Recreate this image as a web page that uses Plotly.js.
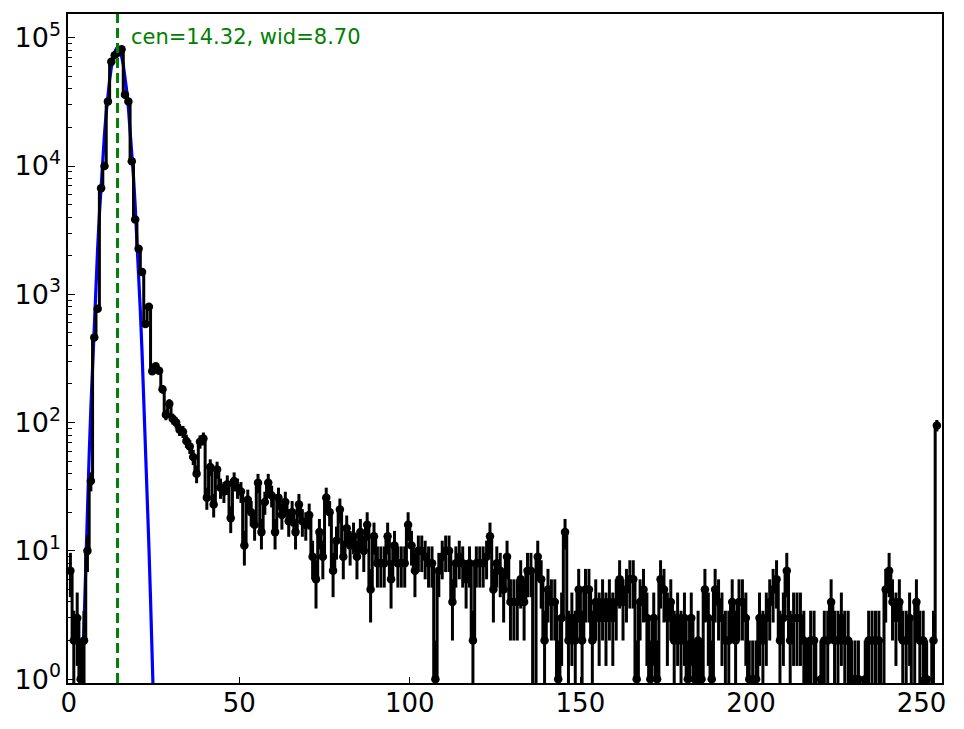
<!DOCTYPE html>
<html>
<head>
<meta charset="utf-8">
<script src="https://cdn.plot.ly/plotly-3.0.1.min.js"></script>
<style>
html,body{margin:0;padding:0;background:#fff;}
#chart{width:964px;height:729px;}
</style>
</head>
<body>
<div id="chart"></div>
<script>
// Histogram counts per bin (bin i spans [i, i+1])
const counts = [
  7, 2, 3, 1, 2, 10, 35, 460, 771, 6700,
  10000, 31900, 65000, 73000, 76600, 81400, 36000, 31900, 10900, 3830,
  2260, 1490, 588, 800, 251, 275, 254, 182, 115, 140,
  107, 100, 88, 85, 72, 65, 54, 40, 71, 75,
  26, 45, 23, 43, 31, 29, 33, 18, 35, 31,
  29, 11, 25, 20, 16, 34, 14, 24, 34, 27,
  14, 26, 19, 24, 17, 20, 14, 23, 17, 16,
  19, 9, 6, 14, 9, 26, 20, 7, 12, 21,
  9, 15, 11, 13, 9, 14, 10, 16, 5, 13,
  8, 8, 8, 13, 6, 11, 8, 8, 8, 16,
  11, 7, 10, 10, 9, 8, 8, 1, 7, 9,
  10, 10, 4, 8, 9, 8, 6, 8, 2, 8,
  8, 8, 9, 13, 5, 8, 7, 5, 9, 4,
  4, 4, 6, 4, 7, 7, 0, 9, 6, 2,
  5, 4, 4, 1, 3, 14, 2, 3, 2, 5,
  2, 5, 5, 2, 4, 3, 4, 3, 4, 3,
  4, 6, 4, 5, 6, 6, 1, 4, 5, 3,
  1, 3, 1, 6, 5, 3, 4, 2, 3, 2,
  3, 1, 3, 1, 2, 1, 5, 3, 1, 5,
  4, 3, 2, 2, 4, 2, 4, 4, 3, 1,
  1, 1, 3, 2, 3, 4, 5, 6, 2, 3,
  7, 2, 3, 3, 3, 2, 1, 2, 2, 0,
  1, 2, 2, 4, 2, 2, 3, 2, 2, 1,
  1, 1, 0, 1, 2, 2, 2, 2, 0, 5,
  7, 4, 3, 4, 2, 2, 3, 0, 4, 2,
  2, 1, 0, 2, 95
];

// Fitted curve samples (blue line)
const fitX = [3.5, 4.0, 4.5, 5.0, 5.5, 6.0, 6.5, 7.0, 7.5, 8.0, 8.5, 9.0, 9.5, 10.0, 10.5,
  11.0, 11.5, 12.0, 12.5, 13.0, 13.5, 14.0, 14.5, 15.0, 15.5, 16.0, 16.5, 17.0, 17.5,
  18.0, 18.5, 19.0, 19.5, 20.0, 20.5, 21.0, 21.5, 22.0, 22.5, 23.0, 23.5, 24.0, 24.5, 25.0];
const fitY = [0.35, 1.07, 3.11, 8.55, 22.3, 55.2, 130, 288, 610, 1220, 2317, 4178, 7130, 11560, 17780,
  25940, 35890, 47100, 58610, 69180, 77450, 82250, 82900, 79200, 71800, 61700, 50350, 38900, 28560,
  19870, 13120, 8200, 4875, 2750, 1470, 743, 357, 163, 70.5, 28.9, 11.2, 4.15, 1.45, 0.48];

const fitCenter = 14.32;
const fitLabel = 'cen=14.32, wid=8.70';

const xTickVals = [0, 50, 100, 150, 200, 250];
const yTickVals = [1, 10, 100, 1000, 10000, 100000];
const yTickText = ['10<sup>0</sup>', '10<sup>1</sup>', '10<sup>2</sup>', '10<sup>3</sup>', '10<sup>4</sup>', '10<sup>5</sup>'];

const binCenters = counts.map((_, i) => i + 0.5);
const shownCounts = counts.map(c => (c > 0 ? c : 1e-3));
const errs = counts.map(c => Math.sqrt(c));

const FONT = 'DejaVu Sans, Liberation Sans, sans-serif';

const traces = [
  {
    x: fitX, y: fitY, type: 'scatter', mode: 'lines',
    line: {color: '#0000ff', width: 3.2},
    hoverinfo: 'skip', showlegend: false
  },
  {
    x: binCenters, y: shownCounts, type: 'scatter', mode: 'lines+markers',
    line: {color: '#000000', width: 3, shape: 'hvh'},
    marker: {color: '#000000', size: 8.5},
    error_y: {type: 'data', array: errs, visible: true, color: '#000000', thickness: 3, width: 0},
    showlegend: false
  }
];

const layout = {
  width: 964, height: 729,
  margin: {l: 68, r: 22, t: 14, b: 46, pad: 0},
  paper_bgcolor: '#ffffff', plot_bgcolor: '#ffffff',
  font: {family: FONT, color: '#000000', size: 26},
  showlegend: false,
  xaxis: {
    range: [-0.2, 256], showgrid: false, zeroline: false,
    showline: true, linecolor: '#000', linewidth: 1.6, mirror: true,
    ticks: 'inside', ticklen: 6, tickwidth: 1, tickcolor: '#000',
    tickvals: xTickVals, tickfont: {size: 26, family: FONT},
    ticklabelstandoff: -4
  },
  yaxis: {
    type: 'log', range: [-0.03, 5.185], showgrid: false, zeroline: false,
    showline: true, linecolor: '#000', linewidth: 1.6, mirror: true,
    ticks: 'inside', ticklen: 7, tickwidth: 1, tickcolor: '#000',
    tickvals: yTickVals, ticktext: yTickText, tickfont: {size: 27, family: FONT},
    minor: {ticks: 'inside', ticklen: 4, tickwidth: 1, tickcolor: '#000', dtick: 'D1', showgrid: false}
  },
  shapes: [{
    type: 'line', xref: 'x', yref: 'paper', x0: fitCenter, x1: fitCenter, y0: 0, y1: 1,
    line: {color: '#008000', width: 3, dash: '10px,5px'}, layer: 'above'
  }],
  annotations: [{
    xref: 'paper', yref: 'paper', x: (129 - 68) / 874, y: 1 - (37 - 14) / 669,
    xanchor: 'left', yanchor: 'middle', showarrow: false,
    text: fitLabel, font: {family: FONT, size: 21, color: '#008000'}
  }]
};

Plotly.newPlot('chart', traces, layout, {displayModeBar: false, staticPlot: true});
</script>
</body>
</html>
